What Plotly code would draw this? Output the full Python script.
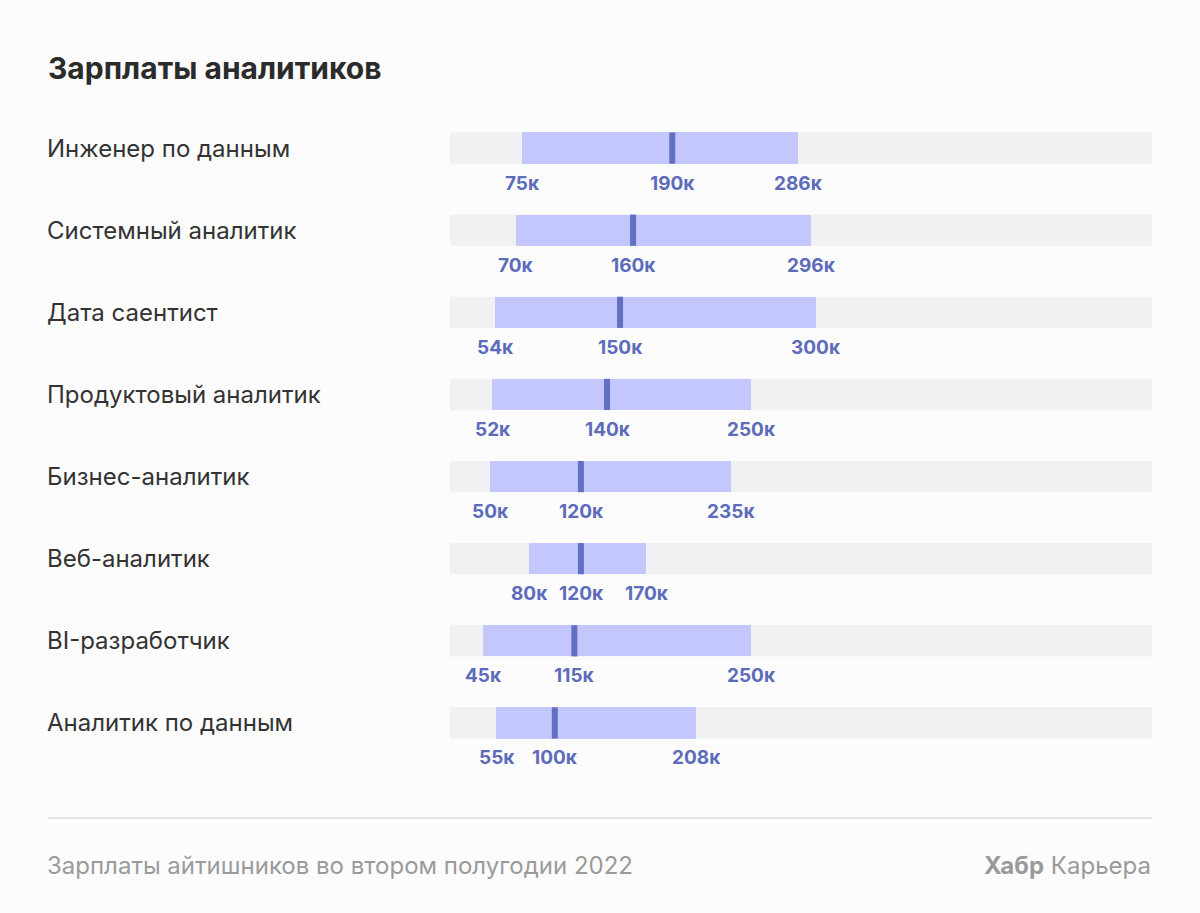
import plotly.graph_objects as go

categories = ["Инженер по данным", "Системный аналитик", "Дата саентист",
              "Продуктовый аналитик", "Бизнес-аналитик", "Веб-аналитик",
              "BI-разработчик", "Аналитик по данным"]
low = [75, 70, 54, 52, 50, 80, 45, 55]
median = [190, 160, 150, 140, 120, 120, 115, 100]
high = [286, 296, 300, 250, 235, 170, 250, 208]

title = "Зарплаты аналитиков"
source = "Зарплаты айтишников во втором полугодии 2022"
brand_bold = "Хабр"
brand_rest = "Карьера"

W, H = 1200, 913
ML, MR, MT, MB = 450, 48, 107, 149
plot_w = W - ML - MR
plot_h = H - MT - MB

BAR = "#c3c7fd"
TRACK = "#f1f0f2"
MED = "#6170c2"
LBL = "#5d6bbb"
FONT = "Inter, Roboto, sans-serif"
HALF = 0.19

fig = go.Figure()

shapes = []
for i, c in enumerate(categories):
    shapes.append(dict(type="rect", xref="x domain", yref="y",
                       x0=0, x1=1, y0=i - HALF, y1=i + HALF,
                       fillcolor=TRACK, line=dict(width=0), layer="below"))

fig.add_trace(go.Bar(
    y=list(range(len(categories))), x=[h - l for h, l in zip(high, low)], base=low,
    orientation="h", width=2 * HALF, marker=dict(color=BAR, line=dict(width=0)),
    hoverinfo="skip", showlegend=False))

# median markers: 6px wide ticks anchored at the median value
for i, m in enumerate(median):
    shapes.append(dict(type="rect", xref="x", yref="y", xsizemode="pixel", xanchor=m,
                       x0=-3, x1=3, y0=i - HALF, y1=i + HALF,
                       fillcolor=MED, line=dict(width=0), layer="above"))

annotations = []
for i, c in enumerate(categories):
    annotations.append(dict(xref="paper", yref="y", x=(48 - ML) / plot_w, xshift=-3, y=i,
                            text=c, showarrow=False, xanchor="left", yanchor="middle",
                            font=dict(family=FONT, size=24, color="#333333")))
    for v in (low[i], median[i], high[i]):
        annotations.append(dict(xref="x", yref="y", x=v, y=i, yshift=-35,
                                text=f"<b>{v}к</b>", showarrow=False,
                                xanchor="center", yanchor="middle",
                                font=dict(family=FONT, size=19, color=LBL)))

shapes.append(dict(type="line", xref="paper", yref="paper",
                   x0=(48 - ML) / plot_w, x1=1,
                   y0=(H - MB - 818) / plot_h, y1=(H - MB - 818) / plot_h,
                   line=dict(color="#dcdcdc", width=1.5)))
annotations.append(dict(xref="paper", yref="paper", x=(48 - ML) / plot_w, xshift=-3,
                        y=(H - MB - 866) / plot_h, text=source, showarrow=False,
                        xanchor="left", yanchor="middle",
                        font=dict(family=FONT, size=24, color="#9a9a9a")))
annotations.append(dict(xref="paper", yref="paper", x=1, xshift=1,
                        y=(H - MB - 866) / plot_h,
                        text=f"<b>{brand_bold}</b> {brand_rest}", showarrow=False,
                        xanchor="right", yanchor="middle",
                        font=dict(family=FONT, size=24, color="#9a9a9a")))

fig.update_layout(
    width=W, height=H,
    margin=dict(l=ML, r=MR, t=MT, b=MB),
    paper_bgcolor="#fcfcfc", plot_bgcolor="rgba(0,0,0,0)",
    title=dict(text=f"<b>{title}</b>", xref="container", yref="container",
               x=48 / W, y=1 - 68 / H, xanchor="left", yanchor="middle",
               font=dict(family=FONT, size=30, color="#2b2b2b")),
    xaxis=dict(range=[19.7, 557.6], showgrid=False, zeroline=False,
               showticklabels=False, fixedrange=True),
    yaxis=dict(range=[len(categories) - 0.5, -0.5], showgrid=False, zeroline=False,
               showticklabels=False, fixedrange=True),
    shapes=shapes, annotations=annotations,
    bargap=0,
)

fig.write_html("out.html", config={"displayModeBar": False},
               post_script="document.body.style.margin='0';document.body.style.background='#fcfcfc';")
